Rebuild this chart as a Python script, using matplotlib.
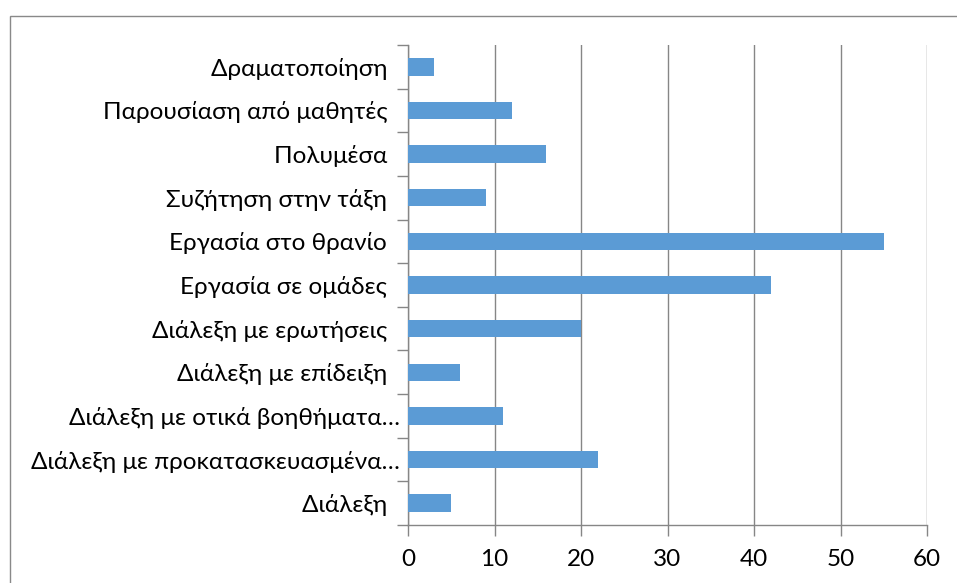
import matplotlib.pyplot as plt
from matplotlib.patches import Rectangle

# teaching methods (bottom to top) and number of answers
methods = [
    'Διάλεξη  ',
    'Διάλεξη με προκατασκευασμένα…',
    'Διάλεξη με οτικά βοηθήματα…',
    'Διάλεξη με επίδειξη  ',
    'Διάλεξη με ερωτήσεις  ',
    'Εργασία σε ομάδες  ',
    'Εργασία στο θρανίο  ',
    'Συζήτηση στην τάξη  ',
    'Πολυμέσα  ',
    'Παρουσίαση από μαθητές  ',
    'Δραματοποίηση  ',
]
counts = [5, 22, 11, 6, 20, 42, 55, 9, 16, 12, 3]
x_ticks = [0, 10, 20, 30, 40, 50, 60]

plt.rcParams['font.family'] = ['Lato', 'DejaVu Sans']
grey = '#868686'
bar_color = '#5B9BD5'

fig = plt.figure(figsize=(9.57, 5.83), dpi=100)
ax = fig.add_axes([408 / 957, 1 - 525 / 583, (927 - 408) / 957, (525 - 45) / 583])

pos = list(range(len(methods)))
ax.barh(pos, counts, height=0.4, color=bar_color, zorder=3)

ax.set_xlim(0, 60)
ax.set_ylim(-0.5, len(methods) - 0.5)
ax.set_xticks(x_ticks)
ax.set_xticklabels([str(t) for t in x_ticks])

# y ticks sit between categories, labels on the categories
ax.set_yticks([p - 0.5 for p in pos] + [len(methods) - 0.5])
ax.set_yticklabels([])
ax.set_yticks(pos, minor=True)
ax.set_yticklabels(methods, minor=True)
ax.tick_params(axis='y', which='minor', length=0, pad=6, labelsize=17.5)
ax.tick_params(axis='y', which='major', length=8, width=1, color=grey)
ax.tick_params(axis='x', length=8, width=1, color=grey, pad=9, labelsize=17.5)

ax.xaxis.grid(True, color=grey, linewidth=1, zorder=0)
for side in ('top', 'right'):
    ax.spines[side].set_visible(False)
for side in ('left', 'bottom'):
    ax.spines[side].set_color(grey)
    ax.spines[side].set_linewidth(1)

# chart area frame
fig.patches.append(Rectangle((10 / 957, -0.1), 1.0, 1 - 16 / 583 + 0.1,
                             transform=fig.transFigure, fill=False,
                             edgecolor='#898989', linewidth=1))

fig.savefig('out.png', dpi=100)
